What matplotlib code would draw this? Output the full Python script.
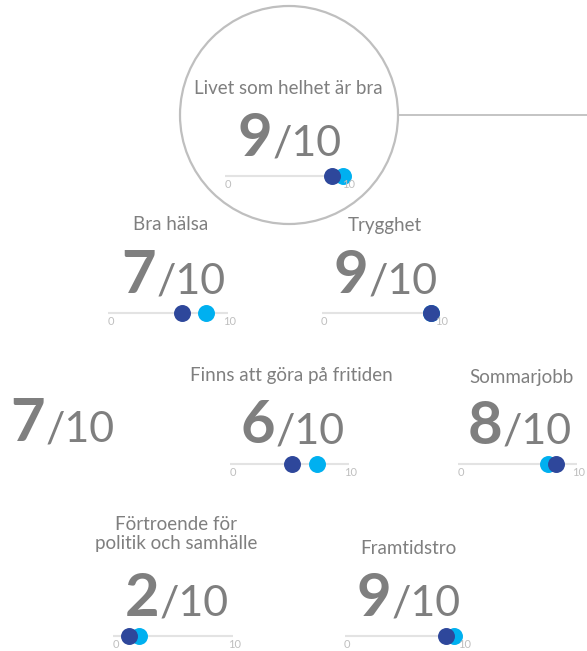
import matplotlib.pyplot as plt
from matplotlib.patches import Circle

plt.rcParams['font.family'] = ['Lato', 'DejaVu Sans']

# data
titles = ['Livet som helhet är bra', 'Bra hälsa', 'Trygghet', '',
          'Finns att göra på fritiden', 'Sommarjobb',
          'Förtroende för\npolitik och samhälle', 'Framtidstro']
scores = [9, 7, 9, 7, 6, 8, 2, 9]
dark_vals = [8.8, 6.2, 9.2, None, 5.2, 8.2, 1.3, 8.6]
cyan_vals = [9.7, 8.2, 9.2, None, 7.3, 7.6, 2.2, 9.2]

# layout (pixels): title centre, number centre/baseline, slider left/right/y
W, H = 587, 651
layout = [
    dict(tx=288, ty=88, nx=290, ny=156, sl=225, sr=347, sy=176),
    dict(tx=171, ty=225, nx=174, ny=293, sl=108, sr=228, sy=313),
    dict(tx=385, ty=225, nx=386, ny=293, sl=322, sr=440, sy=313),
    dict(tx=63, ty=375, nx=63, ny=441, sl=None, sr=None, sy=None),
    dict(tx=291, ty=376, nx=293, ny=443, sl=230, sr=349, sy=464),
    dict(tx=521, ty=377, nx=520, ny=444, sl=458, sr=577, sy=464),
    dict(tx=176, ty=534, nx=177, ny=616, sl=113, sr=233, sy=636),
    dict(tx=408, ty=548, nx=409, ny=616, sl=345, sr=463, sy=636),
]

GRAY = '#7f7f7f'
DARK = '#2e479b'
CYAN = '#00b0f0'

fig = plt.figure(figsize=(W / 100, H / 100), dpi=100)
bg = fig.add_axes([0, 0, 1, 1])
bg.set_xlim(0, W)
bg.set_ylim(H, 0)
bg.axis('off')

# highlight circle and connector line
bg.add_patch(Circle((289, 115), 109, fill=False, ec='#bfbfbf', lw=1.6))
bg.plot([399, W], [115, 115], color='#bfbfbf', lw=1.3)

for i, lay in enumerate(layout):
    if titles[i]:
        bg.text(lay['tx'], lay['ty'], titles[i], ha='center', va='center',
                fontsize=13.5, color=GRAY, linespacing=1.2)
    split = lay['nx'] - 18
    bg.text(split, lay['ny'], str(scores[i]), ha='right', va='baseline',
            fontsize=43, fontweight='bold', color=GRAY)
    bg.text(split + 1, lay['ny'], '/10', ha='left', va='baseline',
            fontsize=31, color=GRAY)

    if lay['sl'] is None:
        continue
    ax = fig.add_axes([lay['sl'] / W, 1 - (lay['sy'] + 10) / H,
                       (lay['sr'] - lay['sl']) / W, 20 / H])
    ax.set_xlim(0, 10)
    ax.set_ylim(-1, 1)
    ax.axis('off')
    ax.plot([0, 10], [0, 0], color='#e3e3e3', lw=1.5, zorder=1)
    ax.scatter([cyan_vals[i]], [0], s=125, color=CYAN, zorder=2, clip_on=False)
    ax.scatter([dark_vals[i]], [0], s=125, color=DARK, zorder=3, clip_on=False)
    ax.text(0.2, -0.85, '0', ha='center', va='center', fontsize=8,
            color='#bfbfbf', clip_on=False)
    ax.text(10.15, -0.85, '10', ha='center', va='center', fontsize=8,
            color='#bfbfbf', clip_on=False)

fig.savefig('out.png', dpi=100)
